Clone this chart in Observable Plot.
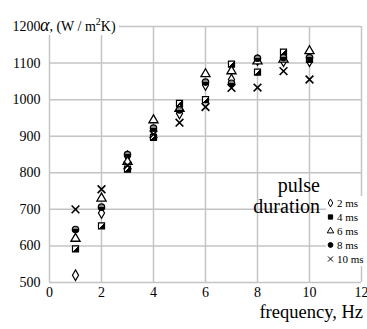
<!DOCTYPE html>
<html><head><meta charset="utf-8">
<script src="https://cdn.jsdelivr.net/npm/d3@7"></script>
<script src="https://cdn.jsdelivr.net/npm/@observablehq/plot@0.6"></script>
<style>
body{margin:0;background:#fff;}
#wrap{position:relative;width:367px;height:329px;font-family:"Liberation Serif",serif;color:#000;}
#title{position:absolute;left:40px;top:14px;background:#fff;font-size:14px;line-height:16px;padding-right:3px;white-space:nowrap;}
#title i{font-size:18px;}
#title sup{font-size:10px;}
#xlabel{position:absolute;right:4px;top:302px;font-size:18.5px;white-space:nowrap;}
#ltitle{position:absolute;left:240px;top:175px;font-size:20px;line-height:21px;text-align:right;width:80px;}
#legend{position:absolute;left:326px;top:196px;width:41px;background:#fff;font-size:11px;line-height:14px;}
#legend div{display:flex;align-items:center;white-space:nowrap;}
#legend svg{margin-right:2px;}
</style></head>
<body><div id="wrap"></div>
<script>
const freqs = [1, 2, 3, 4, 5, 6, 7, 8, 9, 10];
const ms2  = [520, 690, 845, 915, 962, 1040, 1055, 1108, 1105, 1105];
const ms4  = [592, 655, 810, 897, 990, 1000, 1097, 1075, 1130, 1110];
const ms6  = [620, 730, 830, 944, 975, 1070, 1078, 1105, 1110, 1133];
const ms8  = [645, 706, 850, 922, 972, 1048, 1045, 1113, 1115, 1115];
const ms10 = [700, 755, 820, 905, 937, 980, 1032, 1033, 1078, 1055];
const seriesNames = ["2 ms", "4 ms", "6 ms", "8 ms", "10 ms"];
const xTicks = [0, 2, 4, 6, 8, 10, 12];
const yTicks = [500, 600, 700, 800, 900, 1000, 1100, 1200];

const toRows = vals => freqs.map((f, i) => ({f, v: vals[i]}));
const grid = "#c4c4c4";

const styles = [
  {symbol: "diamond", fill: "white", stroke: "black", r: 3.2, strokeWidth: 1.2},
  {symbol: "square", fill: "url(#halfsq)", stroke: "black", r: 3.4, strokeWidth: 1.2},
  {symbol: "triangle", fill: "white", stroke: "black", r: 3.4, strokeWidth: 1.3},
  {symbol: "circle", fill: "url(#halfci)", stroke: "black", r: 3.2, strokeWidth: 1.2},
  {symbol: "times", fill: "none", stroke: "black", r: 3.6, strokeWidth: 1.6}
];
const allSeries = [ms2, ms4, ms6, ms8, ms10];

const chart = Plot.plot({
  width: 367, height: 329,
  marginLeft: 49, marginRight: 6, marginTop: 26, marginBottom: 47,
  style: {fontFamily: "Liberation Serif", fontSize: "14px", color: "black", background: "white"},
  x: {domain: [0, 12]},
  y: {domain: [500, 1200]},
  marks: [
    Plot.gridX(xTicks, {stroke: grid, strokeOpacity: 1, strokeWidth: 1.5}),
    Plot.gridY(yTicks, {stroke: grid, strokeOpacity: 1, strokeWidth: 1.5}),
    Plot.axisX(xTicks, {tickSize: 0, tickPadding: 5, label: null, fontSize: 14, tickFormat: d => String(d)}),
    Plot.axisY(yTicks, {tickSize: 0, tickPadding: 9, label: null, fontSize: 14, tickFormat: d => String(d)}),
    ...allSeries.map((s, i) => Plot.dot(toRows(s), {x: "f", y: "v", ...styles[i]}))
  ]
});

const defs = d3.create("svg:defs");
const g1 = defs.append("linearGradient").attr("id", "halfsq").attr("x1", 0).attr("y1", 0).attr("x2", 1).attr("y2", 1);
g1.append("stop").attr("offset", "50%").attr("stop-color", "white");
g1.append("stop").attr("offset", "50%").attr("stop-color", "black");
const g2 = defs.append("linearGradient").attr("id", "halfci").attr("x1", 0).attr("y1", 0).attr("x2", 0).attr("y2", 1);
g2.append("stop").attr("offset", "45%").attr("stop-color", "#888");
g2.append("stop").attr("offset", "45%").attr("stop-color", "black");
chart.insertBefore(defs.node(), chart.firstChild);

const wrap = document.getElementById("wrap");
wrap.appendChild(chart);

const t = document.createElement("div"); t.id = "title";
t.innerHTML = "<i>α</i>, (W / m<sup>2</sup>K)";
wrap.appendChild(t);
const xl = document.createElement("div"); xl.id = "xlabel"; xl.textContent = "frequency, Hz";
wrap.appendChild(xl);
const lt = document.createElement("div"); lt.id = "ltitle"; lt.innerHTML = "pulse<br>duration";
wrap.appendChild(lt);

const leg = document.createElement("div"); leg.id = "legend";
const symMap = {diamond: d3.symbolDiamond, square: d3.symbolSquare, triangle: d3.symbolTriangle, circle: d3.symbolCircle, times: d3.symbolTimes};
seriesNames.forEach((name, i) => {
  const st = styles[i];
  const row = document.createElement("div");
  const s = d3.create("svg").attr("width", 9).attr("height", 12);
  s.append("path").attr("transform", "translate(4.5,6)")
    .attr("d", d3.symbol(symMap[st.symbol], Math.PI * 2.4 * 2.4)())
    .attr("fill", st.fill === "none" ? "none" : (i === 1 || i === 3 ? "black" : "white"))
    .attr("stroke", "black").attr("stroke-width", 1);
  row.appendChild(s.node());
  const sp = document.createElement("span"); sp.textContent = name;
  row.appendChild(sp);
  leg.appendChild(row);
});
wrap.appendChild(leg);
</script></body></html>
